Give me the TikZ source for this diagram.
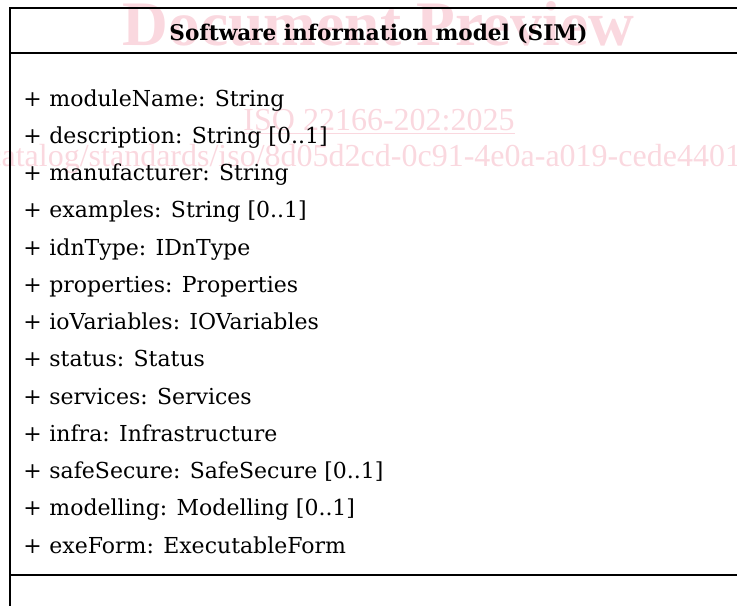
\documentclass[tikz,border=0pt]{standalone}
\usepackage{fontspec}
\setmainfont{DejaVu Serif}
\newfontfamily\wmfont{Liberation Serif}
\usepackage{tikz}
\usetikzlibrary{positioning}
\definecolor{wmpink}{RGB}{250,216,223}

\begin{document}
\begin{tikzpicture}[x=0.5pt,y=-0.5pt,
    wmark/.style={text=wmpink,inner sep=0pt,anchor=base},
    box/.style={line width=1pt},
    title/.style={anchor=base,inner sep=0pt,font=\fontsize{10.8}{13}\bfseries},
    attr/.style={anchor=base west,inner sep=0pt,font=\fontsize{11}{13}\selectfont}]
	\clip (0,0) rectangle (737,605);
	% Watermark
	\node[wmark,font=\wmfont\fontsize{31.7}{36}\bfseries] (wmhead) at (378.5,45) {Document Preview};
	\node[wmark,font=\wmfont\fontsize{16}{18}\selectfont] (wmiso) at (379,130) {\underline{ISO 22166-202:2025}};
	\node[wmark,anchor=base west,font=\wmfont\fontsize{16}{18}\selectfont] (wmurl) at (-13,166) {catalog/standards/iso/8d05d2cd-0c91-4e0a-a019-cede4401};
	% Class box
	\draw[box] (748,8) -- (10,8) -- (10,610);
	\draw[box] (10,53) -- (748,53); % Name
	\draw[box] (10,575) -- (748,575); % Attributes
	\node[title] (sim) at (378.5,40.7) {Software information model (SIM)};
	\foreach \attr [count=\i from 0] in {{moduleName: String},{description: String [0..1]},{manufacturer: String},{examples: String [0..1]},{idnType: IDnType},{properties: Properties},{ioVariables: IOVariables},{status: Status},{services: Services},{infra: Infrastructure},{safeSecure: SafeSecure [0..1]},{modelling: Modelling [0..1]},{exeForm: ExecutableForm}}{
		\node[attr] (p\i) at (23,106+37.25*\i) {+};
		\node[attr] (a\i) at (49,106+37.25*\i) {\attr};
	}
\end{tikzpicture}
\end{document}
